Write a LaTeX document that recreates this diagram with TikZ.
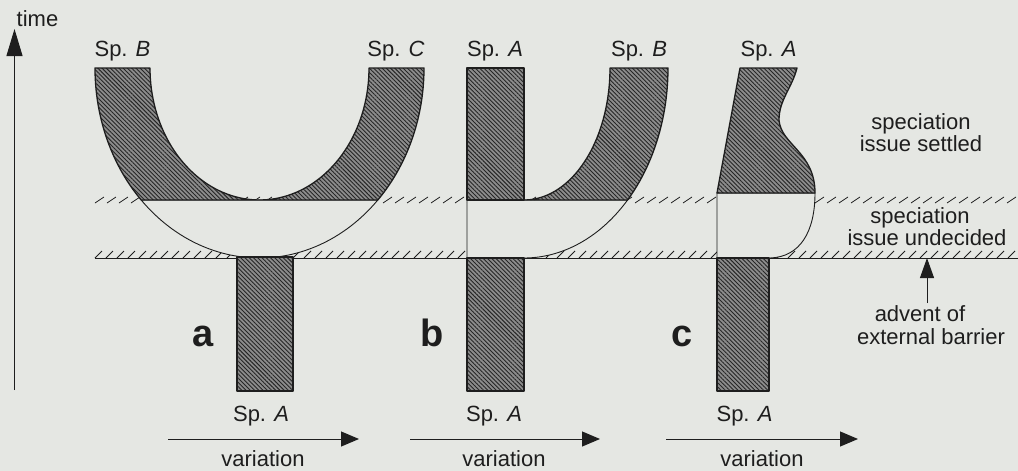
\documentclass[tikz,border=0pt]{standalone}
\usepackage{fontspec}
\setmainfont{Liberation Sans}
\usetikzlibrary{arrows.meta,patterns.meta}
\definecolor{bg}{RGB}{229,231,227}
\definecolor{ink}{RGB}{30,30,30}
\begin{document}
\begin{tikzpicture}[x=1pt,y=-1pt,
  lbl/.style={font=\fontsize{22}{24}\selectfont, text=ink, inner sep=0pt, anchor=base},
  letter/.style={font=\fontsize{38}{40}\selectfont\bfseries, text=ink, inner sep=0pt, anchor=base},
  hatched/.style={preaction={fill=black!45}, pattern={Lines[angle=-45,distance=3pt,line width=0.9pt]}, pattern color=black!85, draw=ink, line width=1.3pt, line join=round},
  hole/.style={fill=bg, draw=ink, line width=0.9pt},
  tick/.style={draw=ink, line width=0.8pt},
  arr/.style={draw=ink, line width=1pt, -{Triangle[length=18pt,width=15pt]}},
]
\fill[bg] (0,0) rectangle (1018,471);
\useasboundingbox (0,0) rectangle (1018,471);

% boundary lines
\foreach \x in {95,107,...,1007} \draw[tick] (\x,203) -- (\x+9,197);
\draw[tick] (95,258) -- (1018,258);
\foreach \x in {95,106,...,1008} \draw[tick] (\x,258) -- (\x+7,251);

% panel a
\path[hole] plot[domain=136:44,samples=60] ({259.5+164.5*cos(\x)},{68+190*sin(\x)}) -- cycle;
\path[hatched] (95,68) -- plot[domain=180:136,samples=40] ({259.5+164.5*cos(\x)},{68+190*sin(\x)})
  -- plot[domain=44:0,samples=40] ({259.5+164.5*cos(\x)},{68+190*sin(\x)})
  -- (369,68) -- plot[domain=0:180,samples=80] ({259.5+109.5*cos(\x)},{68+132*sin(\x)}) -- cycle;
\path[hatched] (237,257) rectangle (293,391);

% panel b
\path[hole] (467,200) -- plot[domain=44:90,samples=40] ({524+144*cos(\x)},{68+190*sin(\x)}) -- (467,258) -- cycle;
\path[hatched] (467,68) rectangle (524,200);
\path[hatched] (610,68) -- (668,68) -- plot[domain=0:44,samples=40] ({524+144*cos(\x)},{68+190*sin(\x)})
  -- (524,200) -- plot[domain=90:0,samples=40] ({524+86*cos(\x)},{68+132*sin(\x)}) -- cycle;
\path[hatched] (467,258) rectangle (524,391);

% panel c
\path[hole] (717,193) -- (815,193) .. controls (815,232) and (800,257) .. (770,258) -- (717,258) -- cycle;
\path[hatched] (740,68) -- (797,68) .. controls (792,88) and (779,100) .. (779,120)
  .. controls (781,145) and (815,152) .. (815,193) -- (717,193) -- cycle;
\path[hatched] (717,258) rectangle (769,391);

% species labels
\node[lbl] (spBa) at (122.5,56) {Sp. \textit{B}};
\node[lbl] (spCa) at (396,56) {Sp. \textit{C}};
\node[lbl] (spAa) at (261,421) {Sp. \textit{A}};
\node[lbl] (spAb) at (495,56) {Sp. \textit{A}};
\node[lbl] (spBb) at (639,56) {Sp. \textit{B}};
\node[lbl] (spAbb) at (494,421) {Sp. \textit{A}};
\node[lbl] (spAc) at (768.5,56) {Sp. \textit{A}};
\node[lbl] (spAcb) at (744.5,421) {Sp. \textit{A}};

% panel letters
\node[letter] (la) at (203,346) {a};
\node[letter] (lb) at (432,346) {b};
\node[letter] (lc) at (682,346) {c};

% time axis
\coordinate (t0) at (14.5,390);
\coordinate (t1) at (14.5,29);
\draw[draw=ink, line width=1pt, -{Triangle[length=27pt,width=16pt]}] (t0) -- (t1);
\node[lbl] (time) at (37.5,26) {time};

% variation arrows
\coordinate (va0) at (168,439); \coordinate (va1) at (359,439);
\coordinate (vb0) at (410,439); \coordinate (vb1) at (600,439);
\coordinate (vc0) at (666,439); \coordinate (vc1) at (858,439);
\draw[arr] (va0) -- (va1);
\draw[arr] (vb0) -- (vb1);
\draw[arr] (vc0) -- (vc1);
\node[lbl] (vara) at (263,466) {variation};
\node[lbl] (varb) at (504,466) {variation};
\node[lbl] (varc) at (762,466) {variation};

% right-hand labels
\node[lbl] (s1) at (921,129) {speciation};
\node[lbl] (s2) at (921,151) {issue settled};
\node[lbl] (u1) at (920,223) {speciation};
\node[lbl] (u2) at (927,245) {issue undecided};
\node[lbl] (adv1) at (920,321) {advent of};
\node[lbl] (adv2) at (931,344) {external barrier};
\coordinate (advtail) at (927,303);
\coordinate (barrier) at (927,258);
\draw[draw=ink, line width=1pt, -{Triangle[length=20pt,width=14pt]}] (advtail) -- (barrier);
\end{tikzpicture}
\end{document}
